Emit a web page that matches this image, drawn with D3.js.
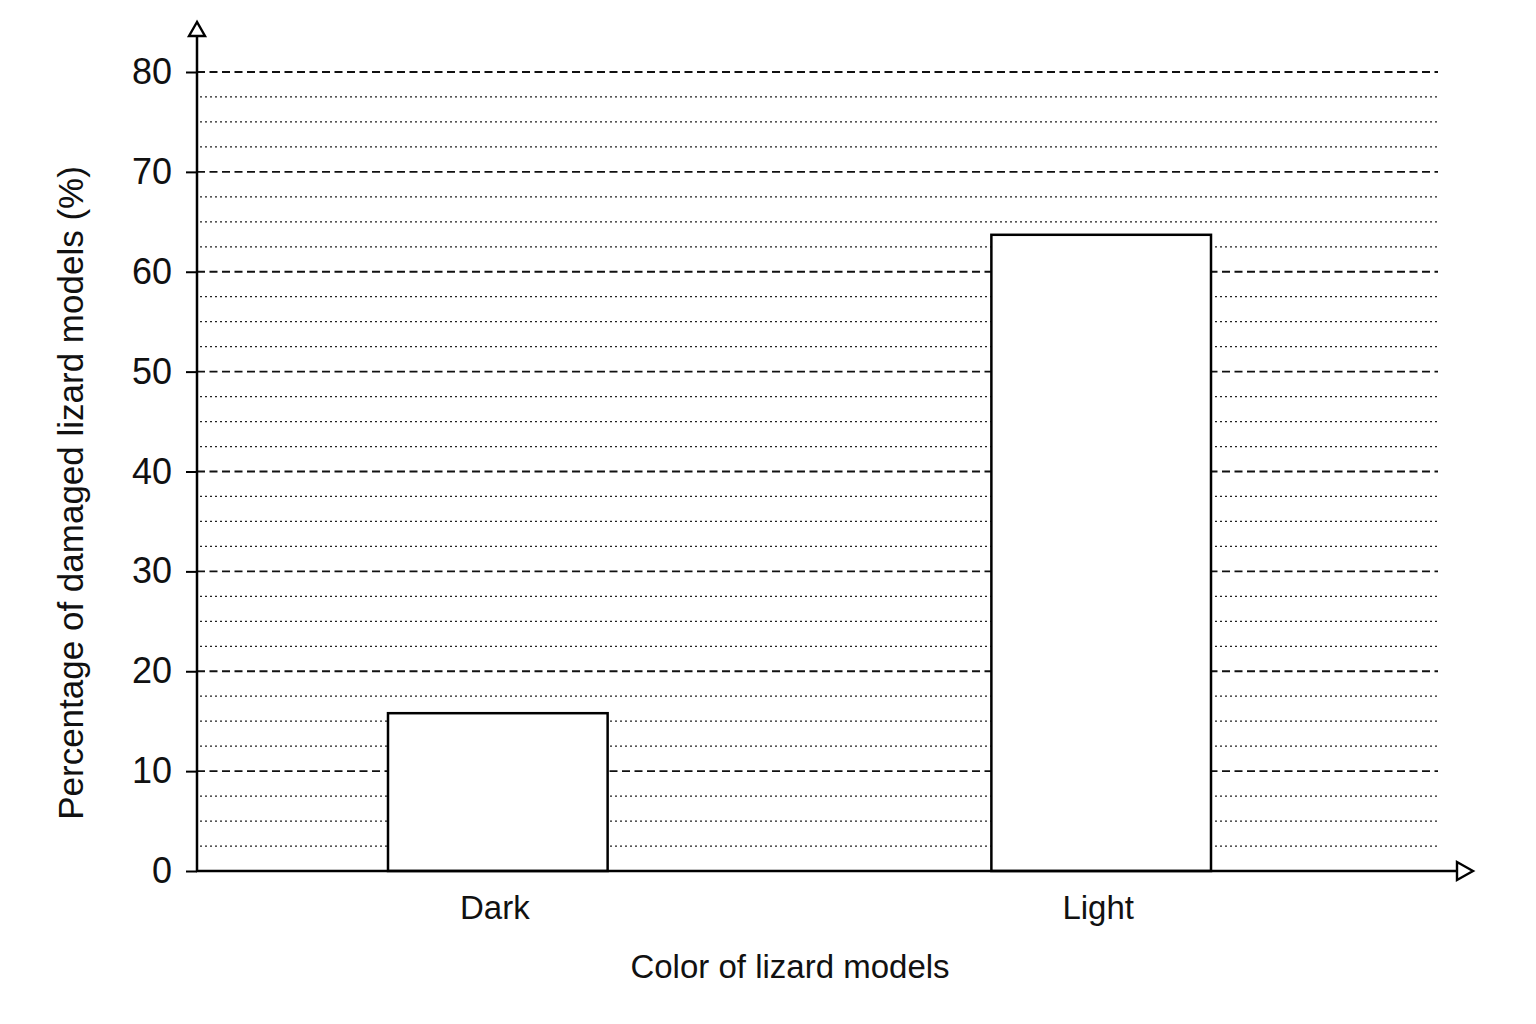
<!DOCTYPE html>
<html>
<head>
<meta charset="utf-8">
<script src="https://cdn.jsdelivr.net/npm/d3@7"></script>
<style>
  body { margin:0; background:#fff; }
  svg { display:block; font-family:"Liberation Sans", Arial, sans-serif; }
</style>
</head>
<body>
<div id="chart"></div>
<script>
	// data
	var categories = ["Dark", "Light"];
	var damaged = [15.8, 63.7];
	var majorTicks = [0, 10, 20, 30, 40, 50, 60, 70, 80];
	var minorTicks = [2.5, 5, 7.5, 12.5, 15, 17.5, 22.5, 25, 27.5, 32.5, 35, 37.5,
		42.5, 45, 47.5, 52.5, 55, 57.5, 62.5, 65, 67.5, 72.5, 75, 77.5];

	var W = 1536, H = 1024;
	var x0 = 197, y0 = 871, gridEnd = 1438;

	var svg = d3.select('#chart').append('svg')
		.attr('width', W)
		.attr('height', H);

	var y = d3.scaleLinear().domain([0, 80]).range([y0, 72]);
	var x = d3.scaleBand().domain(categories)
		.range([388, 1211])
		.paddingInner(0.636)
		.paddingOuter(0);

	// dotted minor grid
	svg.append('g').selectAll('line').data(minorTicks).enter().append('line')
		.attr('x1', x0 + 3).attr('x2', gridEnd)
		.attr('y1', function(d){ return y(d); })
		.attr('y2', function(d){ return y(d); })
		.attr('stroke', '#222')
		.attr('stroke-width', 1.2)
		.attr('stroke-dasharray', '2,3');

	// dashed major grid
	svg.append('g').selectAll('line').data(majorTicks.slice(1)).enter().append('line')
		.attr('x1', x0).attr('x2', gridEnd)
		.attr('y1', function(d){ return y(d); })
		.attr('y2', function(d){ return y(d); })
		.attr('stroke', '#111')
		.attr('stroke-width', 1.8)
		.attr('stroke-dasharray', '8,4.5');

	// bars
	svg.append('g').selectAll('rect').data(damaged).enter().append('rect')
		.attr('x', function(d, i){ return x(categories[i]); })
		.attr('width', x.bandwidth())
		.attr('y', function(d){ return y(d); })
		.attr('height', function(d){ return y0 - y(d); })
		.attr('fill', '#fff')
		.attr('stroke', '#000')
		.attr('stroke-width', 2.5);

	// y axis with ticks and labels
	var yAxis = d3.axisLeft(y).tickValues(majorTicks).tickSize(11).tickPadding(14);
	var ya = svg.append('g').attr('transform', 'translate(' + x0 + ',0)').call(yAxis);
	ya.select('.domain').remove();
	ya.selectAll('.tick line').attr('stroke', '#000').attr('stroke-width', 2);
	ya.selectAll('.tick text')
		.attr('font-size', 36)
		.attr('fill', '#111')
		.attr('font-family', '"Liberation Sans", Arial, sans-serif');

	// axis lines with open arrows
	svg.append('line')
		.attr('x1', x0).attr('x2', x0)
		.attr('y1', y0 + 1).attr('y2', 36)
		.attr('stroke', '#000').attr('stroke-width', 2.5);
	svg.append('path')
		.attr('d', 'M' + x0 + ',22 L' + (x0 - 8) + ',36 L' + (x0 + 8) + ',36 Z')
		.attr('fill', '#fff').attr('stroke', '#000').attr('stroke-width', 2.4);

	svg.append('line')
		.attr('x1', x0 - 1).attr('x2', 1457)
		.attr('y1', y0).attr('y2', y0)
		.attr('stroke', '#000').attr('stroke-width', 2.5);
	svg.append('path')
		.attr('d', 'M1473,' + y0 + ' L1457,' + (y0 - 9) + ' L1457,' + (y0 + 9) + ' Z')
		.attr('fill', '#fff').attr('stroke', '#000').attr('stroke-width', 2.4);

	// category labels
	svg.append('g').selectAll('text').data(categories).enter().append('text')
		.attr('x', function(d){ return x(d) + x.bandwidth() / 2 - 3; })
		.attr('y', 919)
		.attr('text-anchor', 'middle')
		.attr('font-size', 33)
		.attr('fill', '#111')
		.text(function(d){ return d; });

	// axis titles
	svg.append('text')
		.attr('x', 790).attr('y', 978)
		.attr('text-anchor', 'middle')
		.attr('font-size', 33)
		.attr('fill', '#111')
		.text('Color of lizard models');

	svg.append('text')
		.attr('transform', 'translate(83,493) rotate(-90)')
		.attr('text-anchor', 'middle')
		.attr('font-size', 35)
		.attr('fill', '#111')
		.text('Percentage of damaged lizard models (%)');
</script>
</body>
</html>
